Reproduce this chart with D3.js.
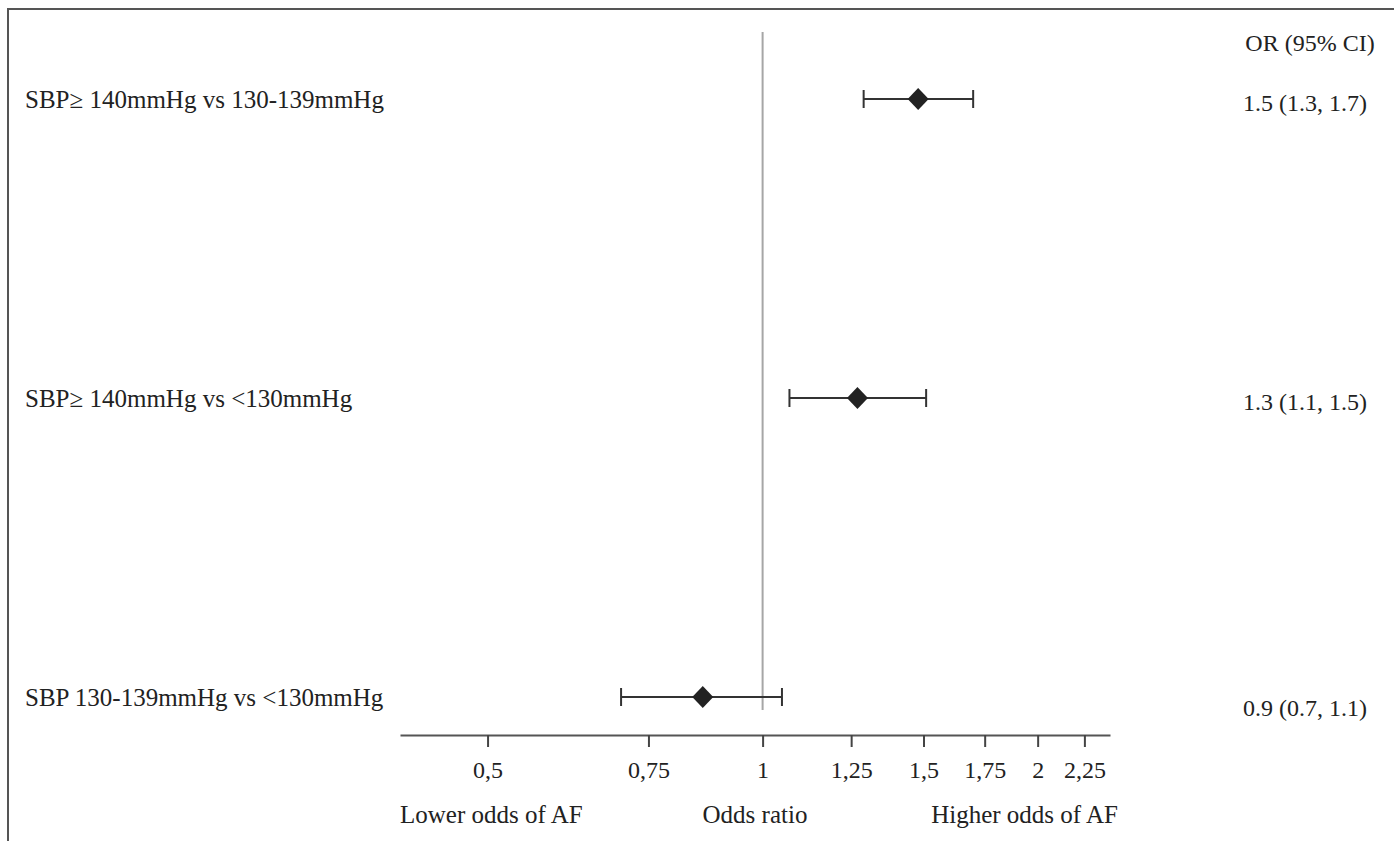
<!DOCTYPE html>
<html>
<head>
<meta charset="utf-8">
<script src="https://cdn.jsdelivr.net/npm/d3@7"></script>
<style>
  body { margin: 0; background: #fff; }
  svg { display: block; }
  text { font-family: "Liberation Serif", "Times New Roman", serif; fill: #222; }
</style>
</head>
<body>
<svg id="chart"></svg>
<script>
// ----------------------------------------------------------------------------
// DATA -----------------------------------------------------------------------
// ----------------------------------------------------------------------------
var labels = ["SBP\u2265 140mmHg vs 130-139mmHg", "SBP\u2265 140mmHg vs <130mmHg", "SBP 130-139mmHg vs <130mmHg"];
var estimates = [1.48, 1.27, 0.86];
var lower = [1.29, 1.07, 0.70];
var upper = [1.70, 1.51, 1.05];
var orText = ["1.5 (1.3, 1.7)", "1.3 (1.1, 1.5)", "0.9 (0.7, 1.1)"];
var tickValues = [0.5, 0.75, 1, 1.25, 1.5, 1.75, 2, 2.25];
var tickLabels = ["0,5", "0,75", "1", "1,25", "1,5", "1,75", "2", "2,25"];

// ----------------------------------------------------------------------------
// SETUP ----------------------------------------------------------------------
// ----------------------------------------------------------------------------
var width = 1394,
    height = 841,
    axisY = 735;

var svg = d3.select("#chart")
  .attr("width", width)
  .attr("height", height);

// Frame (top + left edge only)
svg.append("path")
  .attr("d", "M8," + height + "V9H" + width)
  .attr("fill", "none")
  .attr("stroke", "#555")
  .attr("stroke-width", 2);

// Log scale for odds ratios
var x = d3.scaleLog().base(2)
  .domain([0.401, 2.4])
  .range([400, 1110]);

var y = d3.scalePoint()
  .domain(labels)
  .range([99, 697]);

// Reference line at OR = 1
svg.append("line")
  .attr("x1", x(1)).attr("x2", x(1))
  .attr("y1", 32).attr("y2", y(labels[2]) + 13)
  .attr("stroke", "#a6a6a6")
  .attr("stroke-width", 2);

// ----------------------------------------------------------------------------
// AXIS -----------------------------------------------------------------------
// ----------------------------------------------------------------------------
var axis = d3.axisBottom(x)
  .tickValues(tickValues)
  .tickFormat(function(d, i) { return tickLabels[i]; })
  .tickSizeOuter(0)
  .tickSizeInner(12)
  .tickPadding(14);

var gAxis = svg.append("g")
  .attr("transform", "translate(0," + axisY + ")")
  .call(axis);

gAxis.select(".domain").attr("stroke", "#555").attr("stroke-width", 2);
gAxis.selectAll(".tick line").attr("stroke", "#444").attr("stroke-width", 2);
gAxis.selectAll(".tick text")
  .attr("font-family", "Liberation Serif, serif")
  .attr("font-size", 24)
  .attr("fill", "#222");

// Bottom captions
svg.append("text").attr("x", 400).attr("y", 823)
  .style("font-size", "25px").text("Lower odds of AF");
svg.append("text").attr("x", 755).attr("y", 823)
  .style("font-size", "25px").style("text-anchor", "middle").text("Odds ratio");
svg.append("text").attr("x", 1118).attr("y", 823)
  .style("font-size", "25px").style("text-anchor", "end").text("Higher odds of AF");

// ----------------------------------------------------------------------------
// ROWS -----------------------------------------------------------------------
// ----------------------------------------------------------------------------
var rows = labels.map(function(l, i) {
  return { label: l, est: estimates[i], lo: lower[i], hi: upper[i], txt: orText[i] };
});

var g = svg.selectAll(".row")
  .data(rows)
  .enter().append("g")
  .attr("class", "row");

// Row labels
g.append("text")
  .attr("x", 25)
  .attr("y", function(d) { return y(d.label); })
  .attr("dy", "0.35em")
  .style("font-size", "25px")
  .text(function(d) { return d.label; });

// CI whiskers
g.append("line")
  .attr("x1", function(d) { return x(d.lo); })
  .attr("x2", function(d) { return x(d.hi); })
  .attr("y1", function(d) { return y(d.label); })
  .attr("y2", function(d) { return y(d.label); })
  .attr("stroke", "#333").attr("stroke-width", 2);

["lo", "hi"].forEach(function(k) {
  g.append("line")
    .attr("x1", function(d) { return x(d[k]); })
    .attr("x2", function(d) { return x(d[k]); })
    .attr("y1", function(d) { return y(d.label) - 9; })
    .attr("y2", function(d) { return y(d.label) + 9; })
    .attr("stroke", "#333").attr("stroke-width", 2);
});

// Diamonds
g.append("path")
  .attr("d", "M0,-11L10.5,0L0,11L-10.5,0Z")
  .attr("transform", function(d) { return "translate(" + x(d.est) + "," + y(d.label) + ")"; })
  .attr("fill", "#222");

// OR (95% CI) column
svg.append("text").attr("x", 1310).attr("y", 43).attr("dy", "0.35em")
  .style("font-size", "24px").style("text-anchor", "middle").text("OR (95% CI)");

g.append("text")
  .attr("x", 1305)
  .attr("y", function(d, i) { return y(d.label) + (i == 2 ? 11 : 4); })
  .attr("dy", "0.35em")
  .style("font-size", "24px")
  .style("text-anchor", "middle")
  .text(function(d) { return d.txt; });
</script>
</body>
</html>
